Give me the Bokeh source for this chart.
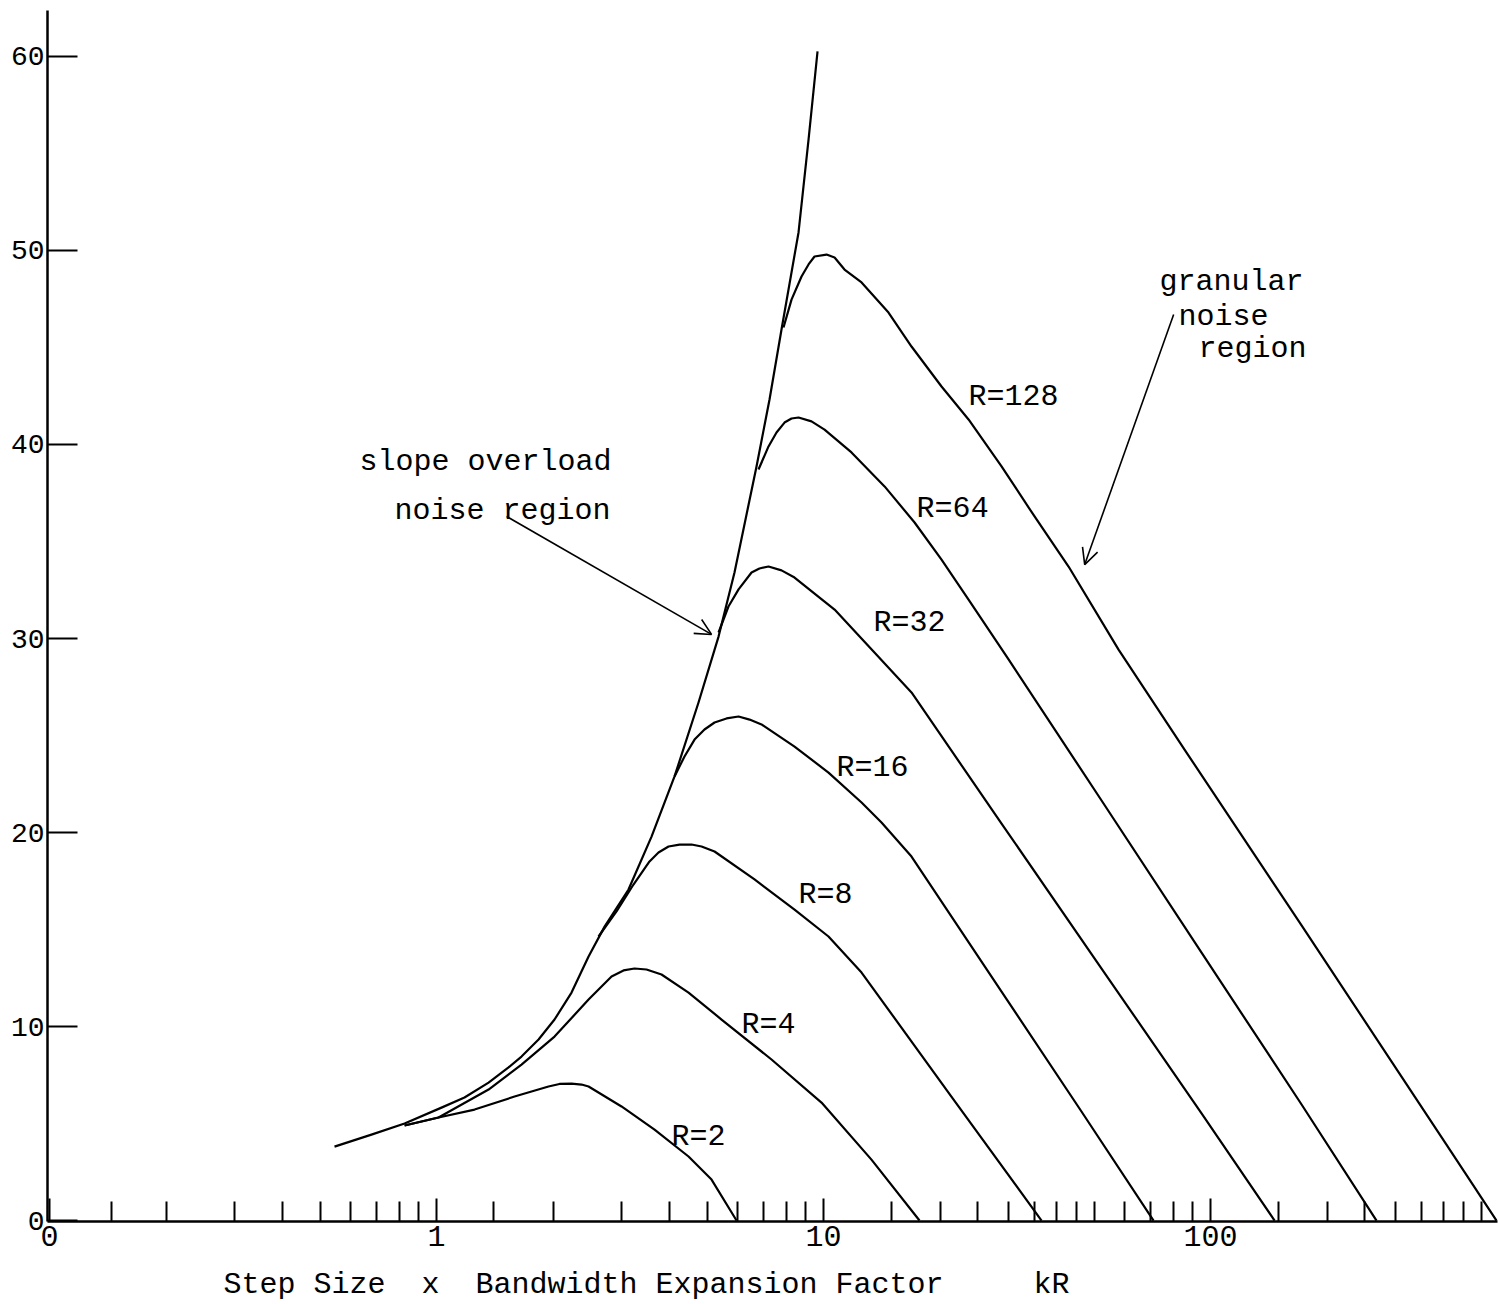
from bokeh.plotting import figure
from bokeh.models import (FixedTicker, CustomJSTickFormatter, Arrow,
                          OpenHead, Range1d)
from bokeh.core.properties import value
from bokeh.embed import file_html
from bokeh.resources import INLINE

FONT = "Liberation Mono"

# ---- data (kR = step size x bandwidth expansion factor, SNR in dB) ----
env_kr = [0.545, 0.679, 0.827, 1.03, 1.181, 1.363, 1.535, 1.658, 1.835, 2.018,
          2.233, 2.471, 2.718, 3.134, 3.594, 4.121, 4.753, 5.355, 5.888, 6.712,
          7.252, 7.788, 8.618, 9.147, 9.650]
env_snr = [3.81, 4.43, 5.00, 5.82, 6.34, 7.11, 7.89, 8.45, 9.33, 10.36,
           11.75, 13.61, 15.15, 17.06, 19.79, 22.89, 26.70, 30.10, 33.40, 38.87,
           42.32, 45.93, 50.93, 55.72, 60.26]

r2_kr = [0.827, 1.012, 1.254, 1.591, 1.947, 2.078, 2.233, 2.370, 2.471, 3.006,
         3.659, 4.479, 5.136, 5.960]
r2_snr = [4.90, 5.31, 5.72, 6.39, 6.91, 7.04, 7.06, 7.01, 6.91, 5.88,
          4.69, 3.30, 2.11, 0.0]

r4_kr = [0.827, 1.012, 1.363, 1.658, 2.018, 2.471, 2.833, 3.042, 3.248, 3.488,
         3.814, 4.479, 5.451, 7.338, 9.881, 13.30, 17.70]
r4_snr = [4.90, 5.31, 6.75, 8.04, 9.48, 11.39, 12.58, 12.89, 12.99, 12.94,
          12.68, 11.75, 10.36, 8.30, 6.08, 3.14, 0.0]

r8_kr = [2.622, 2.918, 3.228, 3.551, 3.746, 3.977, 4.246, 4.560, 4.840, 5.229,
         6.633, 8.416, 10.30, 12.54, 21.4, 36.59]
r8_snr = [14.64, 15.93, 17.32, 18.51, 18.97, 19.28, 19.38, 19.38, 19.28, 19.02,
          17.58, 16.03, 14.64, 12.78, 6.39, 0.0]

r16_kr = [4.121, 4.373, 4.642, 4.925, 5.229, 5.616, 6.032, 6.440, 6.915, 8.416,
          10.30, 12.54, 14.12, 16.88, 28.84, 46.4, 71.25]
r16_snr = [22.89, 23.92, 24.79, 25.31, 25.67, 25.88, 25.98, 25.82, 25.57, 24.43,
           23.09, 21.55, 20.52, 18.76, 11.80, 5.62, 0.0]

r32_kr = [5.355, 5.680, 6.032, 6.516, 6.830, 7.209, 7.788, 8.416, 10.68, 13.54,
          16.88, 28.84, 52.29, 94.8, 146.4]
r32_snr = [30.31, 31.65, 32.53, 33.40, 33.61, 33.71, 33.51, 33.14, 31.49, 29.28,
           27.22, 20.46, 12.99, 5.52, 0.0]

r64_kr = [6.792, 7.209, 7.560, 7.928, 8.266, 8.618, 9.310, 10.06, 11.81, 14.38,
          17.19, 20.18, 23.70, 30.07, 52.29, 94.8, 171.9, 268.5]
r64_snr = [38.71, 39.90, 40.62, 41.13, 41.34, 41.39, 41.19, 40.77, 39.59, 37.84,
           35.98, 34.07, 32.01, 28.92, 21.65, 13.81, 5.98, 0.0]

r128_kr = [7.881, 8.266, 8.773, 9.147, 9.478, 10.18, 10.68, 11.33, 12.54, 14.72,
           16.88, 20.18, 23.70, 28.84, 35.10, 42.97, 57.86, 86.7, 171.9, 311.5,
           419.6, 548.3]
r128_snr = [46.03, 47.47, 48.66, 49.28, 49.69, 49.79, 49.64, 49.02, 48.35, 46.80,
            45.05, 42.99, 41.29, 38.87, 36.29, 33.71, 29.43, 24.12, 15.21, 7.42,
            3.51, 0.0]

r_labels = ["R=2", "R=4", "R=8", "R=16", "R=32", "R=64", "R=128"]
r_label_kr = [4.05, 6.14, 8.62, 10.80, 13.47, 17.4, 23.7]
r_label_snr = [4.33, 10.10, 16.80, 23.35, 30.82, 36.65, 42.47]

x_major_ticks = [0.1, 1, 10, 100]
x_minor_ticks = [0.145, 0.2, 0.3, 0.4, 0.5, 0.6, 0.7, 0.8, 0.9,
                 1.4, 2, 3, 4, 5, 6, 7, 8, 9,
                 15, 20, 25, 30, 35, 40, 45, 50, 60, 70, 80, 90,
                 150, 200, 250, 300, 350, 400, 450, 500]
y_ticks = [0, 10, 20, 30, 40, 50, 60]

x_title = ("Step Size\u00a0\u00a0x\u00a0\u00a0Bandwidth Expansion Factor"
           "\u00a0\u00a0\u00a0\u00a0\u00a0kR" + "\u00a0" * 14)

# ---- figure ----
p = figure(width=1498, height=1304, x_axis_type="log",
           x_range=Range1d(0.0988, 551.5), y_range=Range1d(-0.05, 62.37),
           output_backend="svg", toolbar_location=None,
           min_border_left=47, min_border_right=1, min_border_top=10,
           min_border_bottom=83)
p.grid.visible = False
p.outline_line_color = None
p.background_fill_color = "white"
p.border_fill_color = "white"

xa = p.xaxis[0]
xa.ticker = FixedTicker(ticks=x_major_ticks, minor_ticks=x_minor_ticks)
xa.formatter = CustomJSTickFormatter(code="return tick < 0.5 ? '0' : tick.toFixed(0);")
xa.axis_line_width = 2.5
xa.axis_line_color = "black"
xa.major_tick_in = 23
xa.major_tick_out = 0
xa.minor_tick_in = 20
xa.minor_tick_out = 0
xa.major_tick_line_width = 2
xa.minor_tick_line_width = 2
xa.major_tick_line_color = "black"
xa.minor_tick_line_color = "black"
xa.major_label_text_font = FONT
xa.major_label_text_font_size = "30px"
xa.major_label_text_color = "black"
xa.major_label_standoff = 4
xa.axis_label = x_title
xa.axis_label_text_font = FONT
xa.axis_label_text_font_size = "30px"
xa.axis_label_text_font_style = "normal"
xa.axis_label_text_color = "black"
xa.axis_label_standoff = 19

ya = p.yaxis[0]
ya.ticker = FixedTicker(ticks=y_ticks)
ya.axis_line_width = 2.5
ya.axis_line_color = "black"
ya.major_tick_in = 30
ya.major_tick_out = 0
ya.major_tick_line_width = 2
ya.major_tick_line_color = "black"
ya.minor_tick_line_color = None
ya.major_label_text_font = FONT
ya.major_label_text_font_size = "28px"
ya.major_label_text_color = "black"
ya.major_label_standoff = 3

curves = [(env_kr, env_snr), (r2_kr, r2_snr), (r4_kr, r4_snr), (r8_kr, r8_snr),
          (r16_kr, r16_snr), (r32_kr, r32_snr), (r64_kr, r64_snr), (r128_kr, r128_snr)]
for kr, snr in curves:
    p.line(kr, snr, line_color="black", line_width=2.2, line_join="round")

p.text(x=r_label_kr, y=r_label_snr, text=r_labels, text_font=value(FONT),
       text_font_size="30px", text_color="black", text_baseline="alphabetic",
       text_align="left")

ann_text = ["slope overload", "noise region", "granular", "noise", "region"]
ann_kr = [0.632, 0.779, 73.8, 82.7, 93.1]
ann_snr = [39.12, 36.55, 48.35, 46.55, 44.90]
p.text(x=ann_kr, y=ann_snr, text=ann_text, text_font=value(FONT),
       text_font_size="30px", text_color="black", text_baseline="alphabetic",
       text_align="left")

p.add_layout(Arrow(end=OpenHead(size=16, line_width=1.6, line_color="black"),
                   x_start=1.517, y_start=36.29, x_end=5.136, y_end=30.21,
                   line_width=1.6, line_color="black"))
p.add_layout(Arrow(end=OpenHead(size=16, line_width=1.6, line_color="black"),
                   x_start=80.3, y_start=46.70, x_end=47.3, y_end=33.81,
                   line_width=1.6, line_color="black"))

open("out.html", "w").write(file_html(p, INLINE))
